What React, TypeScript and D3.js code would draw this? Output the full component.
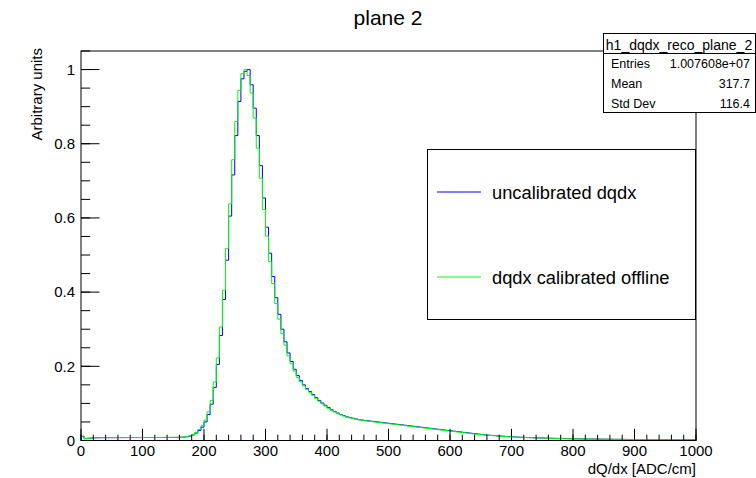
import React from "react";
import * as d3 from "d3";

const binWidth = 5;
const xMin = 0;
const xMax = 1000;

// uncalibrated dqdx (blue), normalized, 200 bins of width 5 from 0 to 1000
const uncalibrated: number[] = [
  0.011, 0.005, 0.006, 0.0068, 0.0072, 0.0074, 0.0075, 0.0076, 0.0076, 0.0077,
  0.0077, 0.0078, 0.0078, 0.0078, 0.0079, 0.0079, 0.0079, 0.008, 0.008, 0.008,
  0.008, 0.008, 0.0081, 0.0081, 0.0081, 0.0081, 0.0082, 0.0082, 0.0082, 0.0083,
  0.0083, 0.0084, 0.0086, 0.009, 0.01, 0.012, 0.015, 0.02, 0.027, 0.036,
  0.05, 0.07, 0.098, 0.143, 0.205, 0.283, 0.38, 0.486, 0.605, 0.716,
  0.822, 0.914, 0.975, 0.995, 1.0, 0.959, 0.896, 0.822, 0.741, 0.654,
  0.575, 0.505, 0.442, 0.385, 0.34, 0.3, 0.266, 0.236, 0.213, 0.192,
  0.175, 0.162, 0.15, 0.14, 0.132, 0.124, 0.116, 0.108, 0.101, 0.095,
  0.089, 0.083, 0.078, 0.074, 0.07, 0.067, 0.064, 0.062, 0.06, 0.058,
  0.056, 0.055, 0.054, 0.053, 0.052, 0.051, 0.05, 0.049, 0.048, 0.047,
  0.046, 0.045, 0.044, 0.043, 0.042, 0.041, 0.04, 0.039, 0.038, 0.037,
  0.036, 0.035, 0.034, 0.033, 0.032, 0.031, 0.03, 0.029, 0.028, 0.027,
  0.026, 0.025, 0.024, 0.023, 0.022, 0.021, 0.02, 0.019, 0.018, 0.017,
  0.016, 0.0152, 0.0145, 0.0138, 0.0132, 0.0125, 0.012, 0.0114, 0.0108, 0.0103,
  0.0098, 0.0093, 0.009, 0.0086, 0.0082, 0.0079, 0.0076, 0.0073, 0.0071, 0.0069,
  0.0066, 0.0064, 0.0061, 0.0059, 0.0057, 0.0055, 0.0053, 0.0051, 0.0049, 0.0047,
  0.0046, 0.0045, 0.0043, 0.0042, 0.0041, 0.004, 0.0039, 0.0038, 0.0037, 0.0036,
  0.0035, 0.0034, 0.0033, 0.0032, 0.0031, 0.0031, 0.003, 0.0029, 0.0028, 0.0028,
  0.0027, 0.0026, 0.0026, 0.0025, 0.0025, 0.0024, 0.0024, 0.0023, 0.0023, 0.0022,
  0.0022, 0.0021, 0.0021, 0.0021, 0.002, 0.002, 0.002, 0.0019, 0.0019, 0.0019,
];

// dqdx calibrated offline (green)
const calibrated: number[] = [
  0.012, 0.005, 0.006, 0.007, 0.0075, 0.0076, 0.0078, 0.0077, 0.0078, 0.0079,
  0.0078, 0.0079, 0.008, 0.0079, 0.008, 0.0081, 0.008, 0.0081, 0.008, 0.0081,
  0.0081, 0.008, 0.0081, 0.0082, 0.0081, 0.0082, 0.0082, 0.0083, 0.0083, 0.0084,
  0.0085, 0.0086, 0.0088, 0.0095, 0.011, 0.013, 0.016, 0.022, 0.03, 0.04,
  0.055, 0.077, 0.108, 0.158, 0.223, 0.306, 0.405, 0.518, 0.638, 0.757,
  0.86, 0.944, 0.989, 1.0, 0.984, 0.937, 0.869, 0.788, 0.707, 0.623,
  0.551, 0.482, 0.423, 0.369, 0.327, 0.288, 0.257, 0.228, 0.207, 0.187,
  0.17, 0.158, 0.147, 0.138, 0.13, 0.122, 0.114, 0.106, 0.099, 0.093,
  0.087, 0.082, 0.077, 0.073, 0.069, 0.066, 0.063, 0.061, 0.059, 0.057,
  0.056, 0.054, 0.053, 0.052, 0.051, 0.05, 0.049, 0.048, 0.047, 0.046,
  0.045, 0.044, 0.043, 0.042, 0.041, 0.04, 0.039, 0.038, 0.037, 0.036,
  0.035, 0.034, 0.033, 0.032, 0.031, 0.03, 0.029, 0.028, 0.027, 0.026,
  0.025, 0.024, 0.023, 0.022, 0.021, 0.02, 0.019, 0.018, 0.017, 0.016,
  0.0155, 0.015, 0.014, 0.0135, 0.013, 0.012, 0.0115, 0.011, 0.0105, 0.01,
  0.0095, 0.009, 0.0088, 0.0085, 0.008, 0.0078, 0.0075, 0.0072, 0.007, 0.0068,
  0.0065, 0.0063, 0.006, 0.0058, 0.0056, 0.0054, 0.0052, 0.005, 0.0048, 0.0046,
  0.0045, 0.0044, 0.0042, 0.0041, 0.004, 0.0039, 0.0038, 0.0037, 0.0036, 0.0035,
  0.0034, 0.0033, 0.0032, 0.0031, 0.0031, 0.003, 0.0029, 0.0028, 0.0028, 0.0027,
  0.0026, 0.0026, 0.0025, 0.0025, 0.0024, 0.0024, 0.0023, 0.0023, 0.0022, 0.0022,
  0.0021, 0.0021, 0.0021, 0.002, 0.002, 0.002, 0.0019, 0.0019, 0.0019, 0.0018,
];

const xMajorTicks = [0, 100, 200, 300, 400, 500, 600, 700, 800, 900, 1000];
const yMajorTicks = [0, 0.2, 0.4, 0.6, 0.8, 1];
const yTickLabels = ["0", "0.2", "0.4", "0.6", "0.8", "1"];

const statsName = "h1_dqdx_reco_plane_2";
const statsLabels = ["Entries", "Mean", "Std Dev"];
const statsValues = ["1.007608e+07", "317.7", "116.4"];

const legendLabels = ["uncalibrated dqdx", "dqdx calibrated offline"];
const seriesColors = ["#0000ff", "#00ff00"];

const FONT = "'Liberation Sans', Arial, Helvetica, sans-serif";

export default function App() {
  const W = 756;
  const H = 478;
  const fx0 = 81;
  const fx1 = 696;
  const fy0 = 51;
  const fy1 = 440.5;

  const x = d3.scaleLinear().domain([xMin, xMax]).range([fx0, fx1]);
  const y = d3.scaleLinear().domain([0, 1.05]).range([fy1, fy0]);

  const stepPath = (vals: number[]) => {
    const pts: [number, number][] = vals.map((v, i) => [xMin + i * binWidth, v]);
    pts.push([xMin + vals.length * binWidth, vals[vals.length - 1]]);
    const line = d3
      .line<[number, number]>()
      .x((d) => x(d[0]))
      .y((d) => y(d[1]))
      .curve(d3.curveStepAfter);
    return line(pts) || "";
  };

  const xMinor = d3.range(0, 1000.001, 20);
  const yMinor = d3.range(0, 1.0501, 0.05);
  const majTickX = 11.7;
  const minTickX = 5.8;
  const majTickY = 18.5;
  const minTickY = 9.2;

  const series = [uncalibrated, calibrated];

  return (
    <svg
      width={W}
      height={H}
      style={{ position: "absolute", left: 0, top: 0, background: "#fff" }}
      fontFamily={FONT}
    >
      <rect x={0} y={0} width={W} height={H} fill="#fff" />
      <defs>
        <clipPath id="frameClip">
          <rect x={fx0} y={fy0} width={fx1 - fx0} height={fy1 - fy0} />
        </clipPath>
      </defs>

      {/* title */}
      <text x={388} y={25} fontSize={21} textAnchor="middle" fill="#000">
        plane 2
      </text>

      {/* histograms */}
      <g clipPath="url(#frameClip)">
        {series.map((s, i) => (
          <path key={i} d={stepPath(s)} fill="none" stroke={seriesColors[i]} strokeWidth={1} />
        ))}
      </g>

      {/* frame */}
      <rect x={fx0} y={fy0} width={fx1 - fx0} height={fy1 - fy0} fill="none" stroke="#000" strokeWidth={1} />

      {/* x ticks */}
      {xMinor.map((t, i) => (
        <line key={"xm" + i} x1={x(t)} x2={x(t)} y1={fy1} y2={fy1 - minTickX} stroke="#000" strokeWidth={1} />
      ))}
      {xMajorTicks.map((t, i) => (
        <g key={"xM" + i}>
          <line x1={x(t)} x2={x(t)} y1={fy1} y2={fy1 - majTickX} stroke="#000" strokeWidth={1} />
          <text x={x(t)} y={456} fontSize={15} textAnchor="middle" fill="#000">
            {String(t)}
          </text>
        </g>
      ))}

      {/* y ticks */}
      {yMinor.map((t, i) => (
        <line key={"ym" + i} x1={fx0} x2={fx0 + minTickY} y1={y(t)} y2={y(t)} stroke="#000" strokeWidth={1} />
      ))}
      {yMajorTicks.map((t, i) => (
        <g key={"yM" + i}>
          <line x1={fx0} x2={fx0 + majTickY} y1={y(t)} y2={y(t)} stroke="#000" strokeWidth={1} />
          <text x={75} y={y(t) + 5.3} fontSize={15} textAnchor="end" fill="#000">
            {yTickLabels[i]}
          </text>
        </g>
      ))}

      {/* axis titles */}
      <text x={fx1} y={473.5} fontSize={15} textAnchor="end" fill="#000">
        dQ/dx [ADC/cm]
      </text>
      <text
        transform={`translate(42, ${fy0 - 3}) rotate(-90)`}
        fontSize={15}
        textAnchor="end"
        fill="#000"
      >
        Arbitrary units
      </text>

      {/* legend */}
      <rect x={427.5} y={149.5} width={268} height={170} fill="#fff" stroke="#000" strokeWidth={1} />
      {legendLabels.map((l, i) => {
        const cy = 192 + i * 85;
        return (
          <g key={"lg" + i}>
            <line x1={437} x2={481} y1={cy} y2={cy} stroke={seriesColors[i]} strokeWidth={1} />
            <text x={492} y={cy + 6.5} fontSize={18.3} fill="#000">
              {l}
            </text>
          </g>
        );
      })}

      {/* stats box */}
      <rect x={603.5} y={33.5} width={152} height={79} fill="#fff" stroke="#000" strokeWidth={1} />
      <line x1={603.5} x2={755.5} y1={53.5} y2={53.5} stroke="#000" strokeWidth={1} />
      <text x={679} y={50} fontSize={14} textAnchor="middle" fill="#000">
        {statsName}
      </text>
      {statsLabels.map((l, i) => {
        const by = 68 + i * 20;
        return (
          <g key={"st" + i}>
            <text x={611} y={by} fontSize={12.5} fill="#000">
              {l}
            </text>
            <text x={750} y={by} fontSize={12.5} textAnchor="end" fill="#000">
              {statsValues[i]}
            </text>
          </g>
        );
      })}
    </svg>
  );
}
